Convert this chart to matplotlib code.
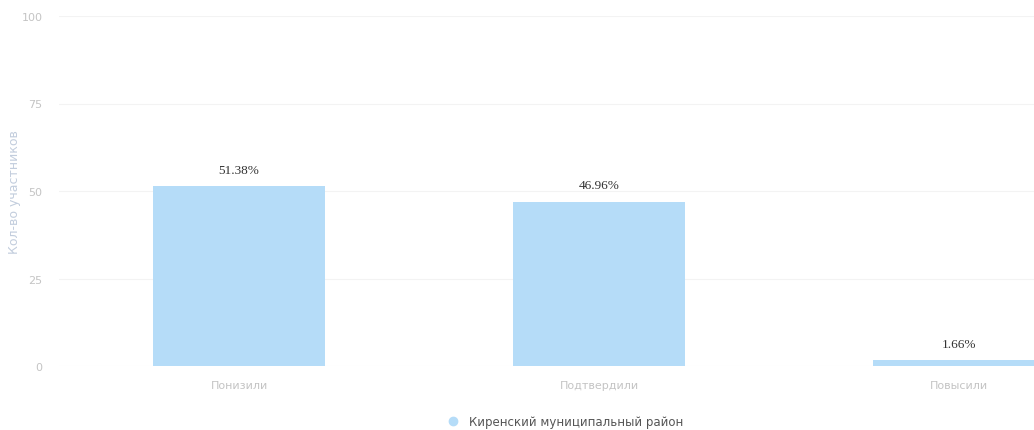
import matplotlib
matplotlib.use('Agg')
import matplotlib.pyplot as plt
from matplotlib.lines import Line2D

categories = ["Понизили", "Подтвердили", "Повысили"]
values = [51.38, 46.96, 1.66]
labels = ["51.38%", "46.96%", "1.66%"]
series_name = "Киренский муниципальный район"

fig = plt.figure(figsize=(10.34, 4.31), dpi=100)
# axis deliberately runs past the right edge like the screenshot
ax = fig.add_axes([59 / 1034, (431 - 367) / 431, 1080 / 1034, 350 / 431])

bar_color = '#b5dcf8'
x = list(range(len(categories)))
ax.bar(x, values, width=0.48, color=bar_color, zorder=2)

for xi, v, lab in zip(x, values, labels):
    ax.text(xi, v + 3, lab, ha='center', va='bottom', fontsize=9.5,
            family='Liberation Serif', color='#333333')

ax.set_xlim(-0.5, 2.5)
ax.set_ylim(0, 100)
ax.set_yticks([0, 25, 50, 75, 100])
ax.set_xticks(x)
ax.set_xticklabels(categories)
ax.tick_params(axis='both', length=0, colors='#c4c4c4', labelsize=8)
ax.tick_params(axis='x', pad=10)
ax.tick_params(axis='y', pad=12)
ax.grid(axis='y', color='#f3f3f3', linewidth=0.8, zorder=0)
for s in ax.spines.values():
    s.set_visible(False)

fig.text(15 / 1034, 1 - 192 / 431, "Кол-во участников", rotation=90,
         ha='center', va='center', fontsize=9, color='#c2cddd')

handle = Line2D([], [], marker='o', linestyle='', markersize=6,
                markerfacecolor=bar_color, markeredgecolor=bar_color)
fig.legend([handle], [series_name], loc='center', bbox_to_anchor=(562 / 1034, 1 - 423 / 431),
           frameon=False, fontsize=8.5, labelcolor='#555555', handletextpad=0.4)

fig.savefig('out.png', dpi=100)
